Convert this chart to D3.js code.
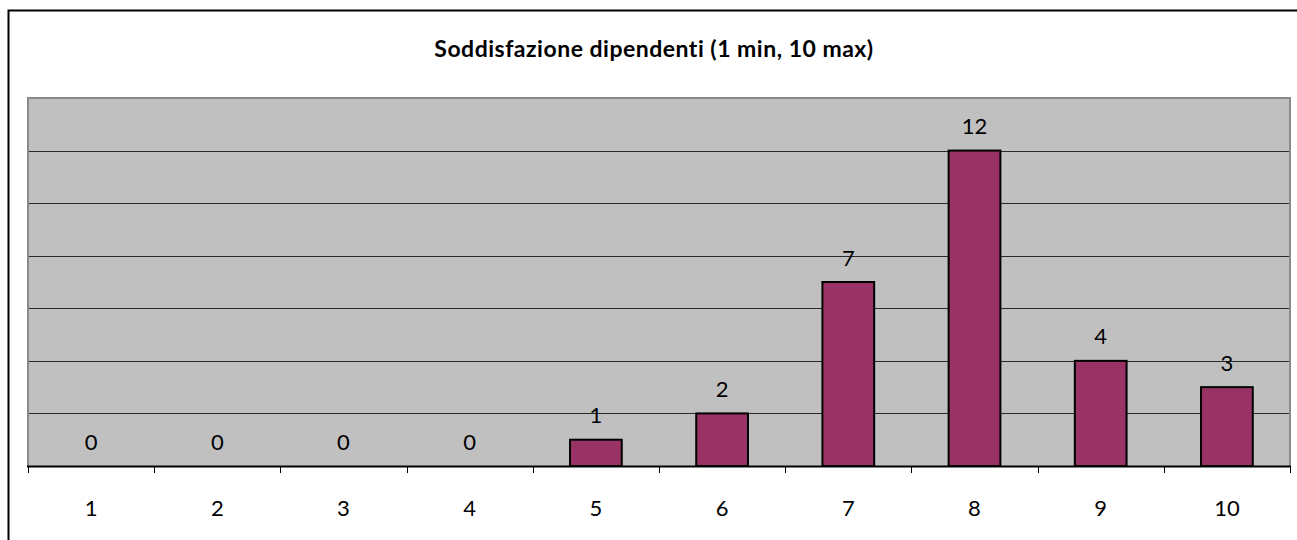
<!DOCTYPE html>
<html>
<head>
<meta charset="utf-8">
<script src="https://cdn.jsdelivr.net/npm/d3@7/dist/d3.min.js"></script>
<style>
  html, body { margin: 0; padding: 0; background: #ffffff; overflow: hidden; }
  svg { display: block; }
  text { font-family: Lato, "Open Sans", sans-serif; fill: #000; }
</style>
</head>
<body>
<svg id="chart" width="1297" height="540"></svg>
<script>
const title = "Soddisfazione dipendenti (1 min, 10 max)";
const categories = ["1", "2", "3", "4", "5", "6", "7", "8", "9", "10"];
const values = [0, 0, 0, 0, 1, 2, 7, 12, 4, 3];
const yTicks = [0, 2, 4, 6, 8, 10, 12, 14];

const W = 1297, H = 540;
const plot = { left: 28, right: 1290, top: 98, bottom: 466 };

const svg = d3.select("#chart");

// outer chart border (only top and left edges fall inside the picture)
svg.append("path")
  .attr("d", `M8.5,${H} V10.5 H${W}`)
  .attr("fill", "none").attr("stroke", "#000").attr("stroke-width", 2);

const x = d3.scaleBand().domain(categories).range([plot.left, plot.right]).paddingInner(0).paddingOuter(0);
const y = d3.scaleLinear().domain([0, 14]).range([plot.bottom, plot.top]);

// plot background
svg.append("rect")
  .attr("x", plot.left).attr("y", plot.top)
  .attr("width", plot.right - plot.left).attr("height", plot.bottom - plot.top)
  .attr("fill", "#c0c0c0");

// gridlines
svg.append("g").selectAll("line")
  .data(yTicks.filter(d => d > 0 && d < 14))
  .join("line")
  .attr("x1", plot.left).attr("x2", plot.right)
  .attr("y1", d => Math.round(y(d)) + 0.5).attr("y2", d => Math.round(y(d)) + 0.5)
  .attr("stroke", "#2a2a2a").attr("stroke-width", 1);

// plot border (left, top, right) gray
svg.append("path")
  .attr("d", `M${plot.left},${plot.bottom} V${plot.top} H${plot.right} V${plot.bottom}`)
  .attr("fill", "none").attr("stroke", "#8a8a8a").attr("stroke-width", 2);

// bars
const barW = x.bandwidth() * 0.41;
svg.append("g").selectAll("rect")
  .data(values.map((v, i) => ({ c: categories[i], v })).filter(d => d.v > 0))
  .join("rect")
  .attr("x", d => x(d.c) + x.bandwidth() / 2 - barW / 2)
  .attr("y", d => y(d.v))
  .attr("width", barW)
  .attr("height", d => y(0) - y(d.v))
  .attr("fill", "#993366")
  .attr("stroke", "#000").attr("stroke-width", 2);

// x axis
const xAxis = d3.axisBottom(x).tickSize(0).tickFormat(d => d);
const gx = svg.append("g").attr("transform", `translate(0,${plot.bottom})`).call(xAxis);
gx.select(".domain").remove();
gx.selectAll("text").remove();
svg.append("line")
  .attr("x1", plot.left - 1).attr("x2", plot.right + 1)
  .attr("y1", plot.bottom + 0.5).attr("y2", plot.bottom + 0.5)
  .attr("stroke", "#000").attr("stroke-width", 2);
const tickPos = categories.map(c => x(c)).concat([plot.right]);
svg.append("g").selectAll("line")
  .data(tickPos)
  .join("line")
  .attr("x1", d => Math.round(d) + 0.5).attr("x2", d => Math.round(d) + 0.5)
  .attr("y1", plot.bottom).attr("y2", plot.bottom + 7)
  .attr("stroke", "#000").attr("stroke-width", 1);

svg.append("g").selectAll("text")
  .data(categories)
  .join("text")
  .attr("x", d => x(d) + x.bandwidth() / 2)
  .attr("y", 515.5)
  .attr("text-anchor", "middle")
  .attr("font-size", 22)
  .text(d => d);

// data labels
svg.append("g").selectAll("text")
  .data(values.map((v, i) => ({ c: categories[i], v })))
  .join("text")
  .attr("x", d => x(d.c) + x.bandwidth() / 2)
  .attr("y", d => y(d.v) - 16.5)
  .attr("text-anchor", "middle")
  .attr("font-size", 22)
  .text(d => d.v);

// title
svg.append("text")
  .attr("x", 654).attr("y", 57.3)
  .attr("text-anchor", "middle")
  .attr("font-size", 23)
  .attr("font-weight", "bold")
  .attr("letter-spacing", 0.5)
  .text(title);
</script>
</body>
</html>
